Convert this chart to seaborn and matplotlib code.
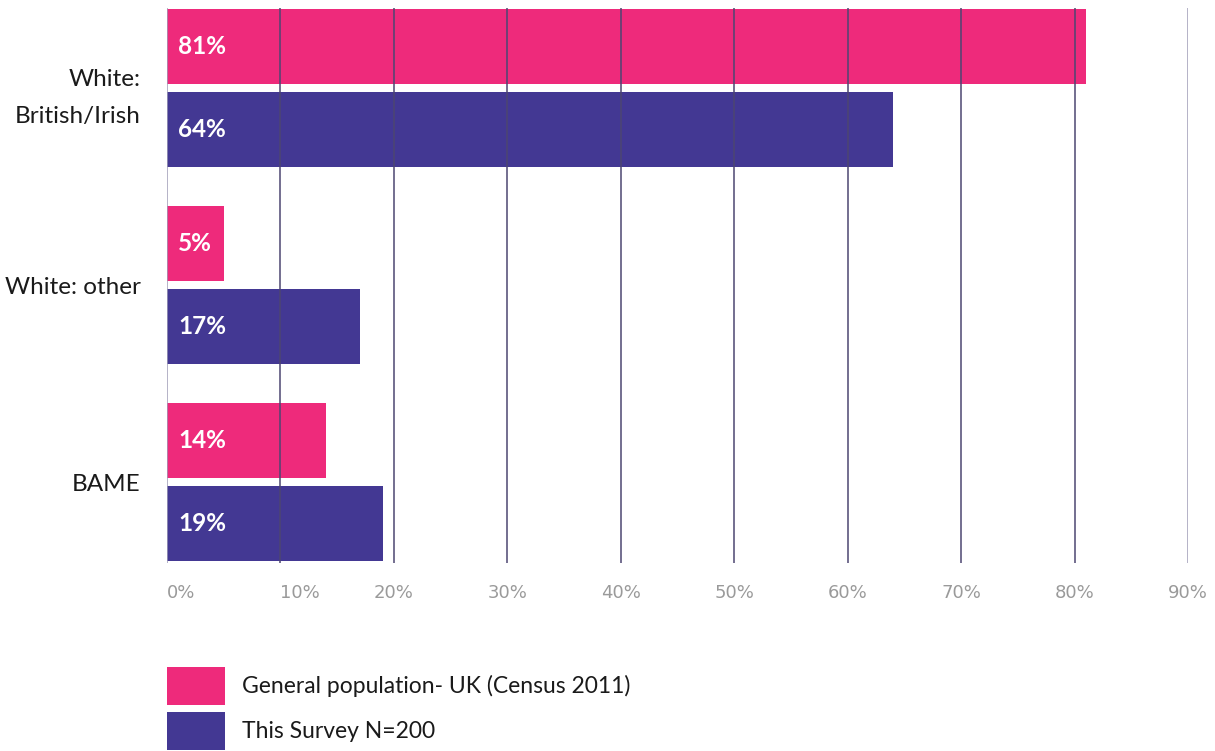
import matplotlib
matplotlib.use("Agg")
import matplotlib.pyplot as plt
from matplotlib.patches import Rectangle
import seaborn as sns
import pandas as pd

categories = ["White:\nBritish/Irish", "White: other", "BAME"]
series_names = ["General population- UK (Census 2011)", "This Survey N=200"]
census_values = [81, 5, 14]
survey_values = [64, 17, 19]
x_ticks = [0, 10, 20, 30, 40, 50, 60, 70, 80, 90]
x_tick_labels = [f"{t}%" for t in x_ticks]

pink = "#ee2a7b"
purple = "#433893"

df = pd.DataFrame({
    "category": categories * 2,
    "series": [series_names[0]] * 3 + [series_names[1]] * 3,
    "value": census_values + survey_values,
})

sns.set_theme(style="white")
plt.rcParams["font.family"] = ["Lato", "DejaVu Sans"]

W, H = 1215, 751
fig = plt.figure(figsize=(W / 100, H / 100), dpi=100)
ax = fig.add_axes([167 / W, 1 - 563 / H, (1188 - 167) / W, (563 - 8) / H])

sns.barplot(data=df, y="category", x="value", hue="series", orient="h",
            palette=[pink, purple], width=0.843, gap=0.096, saturation=1,
            linewidth=0, ax=ax, legend=False, zorder=2)

ax.set_xlim(0, 90)
ax.set_ylim(2.409, -0.406)
ax.set_xticks(x_ticks)
ax.set_xticklabels(x_tick_labels, color="#9a9a9a", fontsize=13, family="DejaVu Sans")
# the first two labels sit just right of their gridline
for lbl in ax.get_xticklabels()[:2]:
    lbl.set_horizontalalignment("left")
ax.tick_params(axis="x", length=0, pad=15)
ax.tick_params(axis="y", length=0, pad=19)
for lbl in ax.get_yticklabels():
    lbl.set_fontsize(17.5)
    lbl.set_color("#1a1a1a")
    lbl.set_horizontalalignment("right")
    lbl.set_multialignment("right")
    lbl.set_linespacing(1.95)
ax.set_xlabel("")
ax.set_ylabel("")
for s in ax.spines.values():
    s.set_visible(False)

# vertical gridlines drawn over the bars
for t in x_ticks:
    c = "#a09eb8" if t in (0, 90) else "#4d4672"
    ax.axvline(t, color=c, lw=1.1, zorder=5)

# value labels inside the bars
for container in ax.containers:
    for bar in container:
        w = bar.get_width()
        ax.text(1.0, bar.get_y() + bar.get_height() / 2, f"{w:.0f}%",
                color="white", fontsize=17.5, fontweight="bold",
                va="center", ha="left", zorder=6)

# legend: colour swatches with their series names
for i, (name, col) in enumerate(zip(series_names, (pink, purple))):
    top = 667 + i * 45
    fig.add_artist(Rectangle((167 / W, 1 - (top + 38) / H), 58 / W, 38 / H,
                             transform=fig.transFigure, color=col, lw=0))
    fig.text(242 / W, 1 - (top + 19) / H, name, fontsize=16.5,
             color="#1a1a1a", va="center", ha="left")

fig.savefig("out.png", dpi=100)
